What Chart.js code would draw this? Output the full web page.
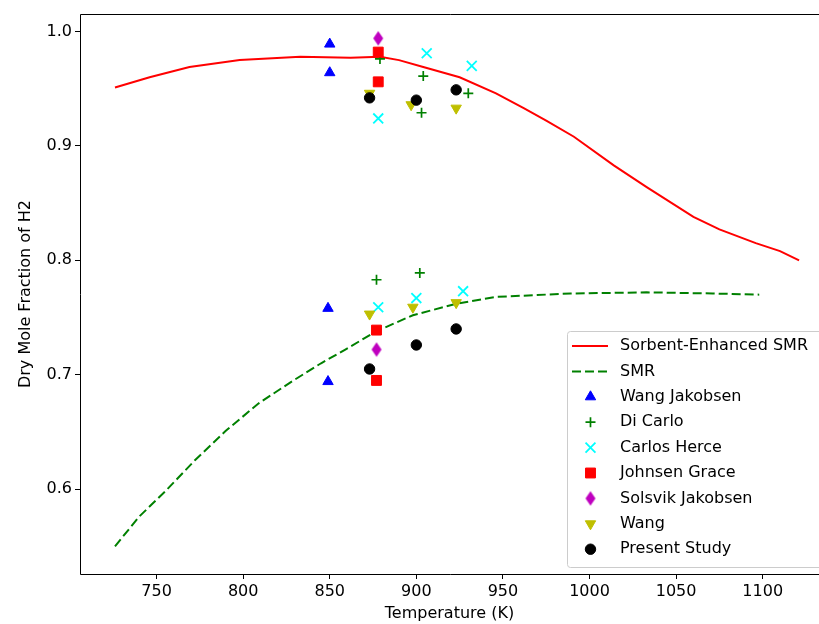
<!DOCTYPE html>
<html>
<head>
<meta charset="utf-8">
<script src="https://cdn.jsdelivr.net/npm/chart.js@4.4.1/dist/chart.umd.min.js"></script>
<style>
  html, body { margin: 0; padding: 0; overflow: hidden; background: #fff; }
  canvas { display: block; }
</style>
</head>
<body>
<canvas id="chart" width="819" height="624"></canvas>
<script>
// model curves
const seSmrT  = [726, 746, 769, 798, 833, 862, 879, 890, 904, 925, 946, 962, 975, 991, 1014, 1033, 1060, 1075, 1096, 1110, 1121];
const seSmrH2 = [0.951, 0.960, 0.969, 0.975, 0.978, 0.977, 0.978, 0.975, 0.969, 0.960, 0.946, 0.933, 0.922, 0.908, 0.883, 0.864, 0.838, 0.827, 0.815, 0.808, 0.800];
const smrT  = [726, 740, 755, 772, 790, 809, 828, 845, 859, 877, 898, 923, 946, 989, 1033, 1071, 1098];
const smrH2 = [0.550, 0.576, 0.598, 0.625, 0.651, 0.675, 0.694, 0.710, 0.722, 0.738, 0.752, 0.762, 0.768, 0.771, 0.772, 0.771, 0.770];

// literature / experimental points
const wangJakobsenT  = [850, 850, 849, 849];
const wangJakobsenH2 = [0.989, 0.964, 0.758, 0.694];
const diCarloT  = [879, 904, 903, 930, 877, 902];
const diCarloH2 = [0.976, 0.961, 0.929, 0.946, 0.783, 0.789];
const carlosHerceT  = [878, 906, 932, 878, 900, 927];
const carlosHerceH2 = [0.924, 0.981, 0.970, 0.759, 0.767, 0.773];
const johnsenGraceT  = [878, 878, 877, 877];
const johnsenGraceH2 = [0.982, 0.956, 0.739, 0.695];
const solsvikT  = [878, 877];
const solsvikH2 = [0.994, 0.722];
const wangT  = [873, 897, 923, 873, 898, 923];
const wangH2 = [0.946, 0.936, 0.933, 0.753, 0.759, 0.763];
const presentT  = [873, 900, 923, 873, 900, 923];
const presentH2 = [0.942, 0.940, 0.949, 0.705, 0.726, 0.740];

const xTicks = [750, 800, 850, 900, 950, 1000, 1050, 1100];
const xTickLabels = ["750", "800", "850", "900", "950", "1000", "1050", "1100"];
const yTicks = [0.6, 0.7, 0.8, 0.9, 1.0];
const yTickLabels = ["0.6", "0.7", "0.8", "0.9", "1.0"];

// the original axes end at ~1140 K, past the right edge of the picture;
// the visible part stops at ~1132.5 K
const xMin = 705.8, xAxesEnd = 1140, xVisibleMax = 1132.5;

const pts = (xs, ys) => xs.map((x, i) => ({ x, y: ys[i] }));

// matplotlib's thin diamond 'd' marker
function thinDiamond(color, w, h) {
    const c = document.createElement("canvas");
    c.width = 12; c.height = 16;
    const g = c.getContext("2d");
    g.beginPath();
    g.moveTo(6, 8 - h / 2);
    g.lineTo(6 + w / 2, 8);
    g.lineTo(6, 8 + h / 2);
    g.lineTo(6 - w / 2, 8);
    g.closePath();
    g.fillStyle = color;
    g.fill();
    return c;
}

function marker(label, xs, ys, style, color, radius, extra) {
    return Object.assign({
        label, data: pts(xs, ys), pointStyle: style, pointRadius: radius,
        backgroundColor: color, borderColor: color, borderWidth: 1
    }, extra || {});
}

const datasets = [
    { label: "Sorbent-Enhanced SMR", data: pts(seSmrT, seSmrH2), showLine: true,
      borderColor: "#ff0000", borderWidth: 2, pointRadius: 0 },
    { label: "SMR", data: pts(smrT, smrH2), showLine: true,
      borderColor: "#008000", borderWidth: 2, borderDash: [9, 4], pointRadius: 0 },
    marker("Wang Jakobsen", wangJakobsenT, wangJakobsenH2, "triangle", "#0000ff", 6),
    marker("Di Carlo", diCarloT, diCarloH2, "cross", "#008000", 5, { borderWidth: 1.7 }),
    marker("Carlos Herce", carlosHerceT, carlosHerceH2, "crossRot", "#00ffff", 7, { borderWidth: 1.8 }),
    marker("Johnsen Grace", johnsenGraceT, johnsenGraceH2, "rect", "#ff0000", 7),
    marker("Solsvik Jakobsen", solsvikT, solsvikH2, thinDiamond("#bf00bf", 10, 14.5), "#bf00bf", 7),
    marker("Wang", wangT, wangH2, "triangle", "#bfbf00", 6, { pointRotation: 180 }),
    marker("Present Study", presentT, presentH2, "circle", "#000000", 5.2)
];
// later series sit on top, as in matplotlib
datasets.forEach((d, i) => { d.order = datasets.length - i; });

// left, top and bottom spines; the right one lies outside the picture
const framePlugin = {
    id: "frame",
    afterDatasetsDraw(chart) {
        const { ctx, chartArea: a } = chart;
        const l = Math.round(a.left) + 0.5, t = Math.round(a.top) + 0.5, b = Math.round(a.bottom) + 0.5;
        ctx.save();
        ctx.strokeStyle = "#000";
        ctx.lineWidth = 1;
        ctx.beginPath();
        ctx.moveTo(chart.width + 2, t);
        ctx.lineTo(l, t);
        ctx.lineTo(l, b);
        ctx.lineTo(chart.width + 2, b);
        ctx.stroke();
        ctx.restore();
    }
};

const legendPlugin = {
    id: "innerLegend",
    afterDraw(chart) {
        const { ctx, chartArea: a } = chart;
        const rowH = 25.4;
        const right = chart.scales.x.getPixelForValue(xAxesEnd) - 7, bottom = a.bottom - 7;
        const left = right - 258, top = bottom - 236;
        ctx.save();
        ctx.beginPath();
        if (ctx.roundRect) ctx.roundRect(left + 0.5, top + 0.5, right - left, bottom - top, 3);
        else ctx.rect(left + 0.5, top + 0.5, right - left, bottom - top);
        ctx.fillStyle = "rgba(255,255,255,0.8)";
        ctx.fill();
        ctx.strokeStyle = "#cccccc";
        ctx.lineWidth = 1;
        ctx.stroke();

        ctx.font = "16px 'DejaVu Sans'";
        ctx.textBaseline = "middle";
        chart.data.datasets.forEach((d, i) => {
            const y = top + 15 + i * rowH;
            if (d.showLine) {
                ctx.beginPath();
                ctx.setLineDash(d.borderDash || []);
                ctx.strokeStyle = d.borderColor;
                ctx.lineWidth = d.borderWidth;
                ctx.moveTo(left + 5, y);
                ctx.lineTo(left + 41, y);
                ctx.stroke();
                ctx.setLineDash([]);
            } else if (Chart.helpers && Chart.helpers.drawPoint) {
                ctx.fillStyle = d.backgroundColor;
                ctx.strokeStyle = d.borderColor;
                ctx.lineWidth = d.borderWidth;
                Chart.helpers.drawPoint(ctx, {
                    pointStyle: d.pointStyle, rotation: d.pointRotation || 0,
                    radius: d.pointRadius, borderWidth: d.borderWidth
                }, left + 23.5, y);
            }
            ctx.fillStyle = "#000";
            ctx.fillText(d.label, left + 53, y);
        });
        ctx.restore();
    }
};

Chart.defaults.font.family = "'DejaVu Sans'";
Chart.defaults.font.size = 16;
Chart.defaults.color = "#000";

const axisGrid = { drawOnChartArea: false, drawTicks: true, tickLength: 5, color: "#000", tickWidth: 1 };

new Chart(document.getElementById("chart").getContext("2d"), {
    type: "scatter",
    data: { datasets },
    options: {
        responsive: false,
        devicePixelRatio: 1,
        animation: false,
        events: [],
        layout: { autoPadding: false, padding: { left: 0, top: 14, right: 0, bottom: 0 } },
        plugins: { legend: { display: false }, tooltip: { enabled: false } },
        elements: { line: { tension: 0 } },
        scales: {
            x: {
                type: "linear", min: xMin, max: xVisibleMax,
                afterBuildTicks: s => { s.ticks = xTicks.map(v => ({ value: v })); },
                afterFit: s => { s.height = 50; s.paddingLeft = 0; s.paddingRight = 0; },
                ticks: { padding: 3, autoSkip: false, maxRotation: 0,
                         callback: (v, i) => xTickLabels[i] },
                grid: axisGrid,
                border: { display: false },
                title: { display: true, text: "Temperature (K)", padding: { top: 0, bottom: 0.6 } }
            },
            y: {
                type: "linear", min: 0.5258, max: 1.0153,
                afterBuildTicks: s => { s.ticks = yTicks.map(v => ({ value: v })); },
                afterFit: s => { s.width = 80; s.paddingTop = 0; s.paddingBottom = 0; },
                ticks: { padding: 3, callback: (v, i) => yTickLabels[i] },
                grid: axisGrid,
                border: { display: false },
                title: { display: true, text: "Dry Mole Fraction of H2", padding: { top: 16.4, bottom: 0 } }
            }
        }
    },
    plugins: [framePlugin, legendPlugin]
});
</script>
</body>
</html>
